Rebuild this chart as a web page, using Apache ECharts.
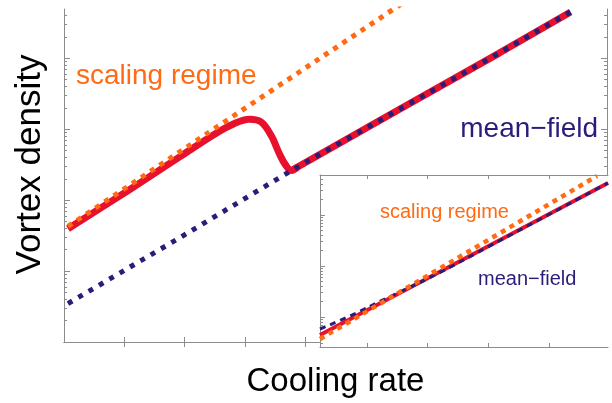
<!DOCTYPE html>
<html>
<head>
<meta charset="utf-8">
<script src="https://cdn.jsdelivr.net/npm/echarts@6/dist/echarts.min.js"></script>
<style>
  html, body { margin: 0; padding: 0; background: #fff; }
  #chart { width: 612px; height: 403px; }
</style>
</head>
<body>
<div id="chart"></div>
<script>
var chart = echarts.init(document.getElementById('chart'));

// x = log10(cooling rate), y = log10(vortex density), arbitrary units (no tick labels in the figure)
// main panel
var mainScalingX = [0.066, 5.6];
var mainScalingY = [1.63, 4.77];
var mainFieldX = [0.066, 1.868, 3.769, 5.554, 7.207, 8.397];
var mainFieldY = [0.542, 1.444, 2.417, 3.278, 4.069, 4.653];
// numerical curve: crossover part, then it sits on the mean-field line
var mainNumX = [0.066, 1.091, 1.917, 2.496, 2.826, 3.074, 3.273, 3.438, 3.570, 3.669, 3.769, 3.87];
var mainNumY = [1.597, 2.150, 2.610, 2.930, 3.080, 3.139, 3.097, 2.903, 2.653, 2.500, 2.417, 2.466];
var mainNumJoinX = 3.769;
// inset
var insetScalingX = [0.225, 4.791];
var insetScalingY = [0.569, 3.765];
var insetFieldX = [0.225, 0.719, 1.329, 1.989, 3.192, 4.972];
var insetFieldY = [0.765, 1.020, 1.373, 1.745, 2.500, 3.627];
var insetNumX = [0.225, 4.972];
var insetNumY = [0.647, 3.627];

var mainDecades = [0, 1, 2, 3, 4];
var insetDecades = [1, 2, 3];

function pairs(xs, ys) {
    return xs.map(function (x, i) { return [x, ys[i]]; });
}
function minorTicks(lo, hi) {
    var out = [];
    for (var d = Math.floor(lo) - 1; d <= hi; d++) {
        for (var k = 2; k <= 9; k++) {
            var v = d + Math.log10(k);
            if (v > lo && v < hi) out.push(v);
        }
    }
    return out;
}

var frameGray = '#8c8c8c';
var orange = '#ff6a13';
var red = '#e8112d';
var navy = '#2a1d7a';
var font = 'Liberation Sans';

function frameAxis(extra, ticks, len, showLine) {
    return Object.assign({
        type: 'value',
        axisLine: { show: showLine, lineStyle: { color: frameGray, width: 1 } },
        axisTick: { show: true, inside: true, length: len, customValues: ticks, lineStyle: { color: frameGray, width: 1 } },
        axisLabel: { show: false },
        splitLine: { show: false }
    }, extra);
}

var mainYMin = 0, mainYMax = 4.694;
var insetYMin = 0.412, insetYMax = 3.784;

var mainFieldPts = pairs(mainFieldX, mainFieldY);

var option = {
    animation: false,
    backgroundColor: '#fff',
    grid: [
        { left: 64, top: 9, right: 5, bottom: 56 },
        { left: 320, top: 175, right: 4, bottom: 56, show: true, backgroundColor: '#fff', borderWidth: 0, z: 5 }
    ],
    xAxis: [
        frameAxis({ gridIndex: 0, position: 'bottom', min: 0, max: 9,
            name: 'Cooling rate', nameLocation: 'middle', nameGap: 23,
            nameTextStyle: { fontFamily: font, fontSize: 33, color: '#000' } },
            [1, 2, 3, 4, 5, 6, 7, 8], 5, true),
        frameAxis({ gridIndex: 0, position: 'top', min: 0, max: 9 }, [1, 2, 3, 4, 5, 6, 7, 8], 5, true),
        frameAxis({ gridIndex: 1, position: 'bottom', min: 0.225, max: 4.972, z: 6 }, [1, 2, 3, 4], 4, true),
        frameAxis({ gridIndex: 1, position: 'top', min: 0.225, max: 4.972, z: 6 }, [1, 2, 3, 4], 4, true)
    ],
    yAxis: [
        frameAxis({ gridIndex: 0, position: 'left', min: mainYMin, max: mainYMax,
            name: 'Vortex density', nameLocation: 'middle', nameGap: 16,
            nameTextStyle: { fontFamily: font, fontSize: 35, color: '#000', padding: [0, 0, 0, 22] } },
            mainDecades, 6, true),
        frameAxis({ gridIndex: 0, position: 'left', min: mainYMin, max: mainYMax }, minorTicks(mainYMin, mainYMax), 3, false),
        frameAxis({ gridIndex: 0, position: 'right', min: mainYMin, max: mainYMax }, mainDecades, 6, true),
        frameAxis({ gridIndex: 0, position: 'right', min: mainYMin, max: mainYMax }, minorTicks(mainYMin, mainYMax), 3, false),
        frameAxis({ gridIndex: 1, position: 'left', min: insetYMin, max: insetYMax, z: 6 }, insetDecades, 5, true),
        frameAxis({ gridIndex: 1, position: 'left', min: insetYMin, max: insetYMax, z: 6 }, minorTicks(insetYMin, insetYMax), 3, false)
    ],
    series: [
        { type: 'line', xAxisIndex: 0, yAxisIndex: 0, data: pairs(mainNumX, mainNumY), smooth: 0.35,
          showSymbol: false, z: 2, lineStyle: { color: red, width: 7 } },
        { type: 'line', xAxisIndex: 0, yAxisIndex: 0,
          data: mainFieldPts.filter(function (p) { return p[0] >= mainNumJoinX; }),
          showSymbol: false, z: 2, lineStyle: { color: red, width: 7 } },
        { type: 'line', xAxisIndex: 0, yAxisIndex: 0, data: mainFieldPts,
          showSymbol: false, z: 3, lineStyle: { color: navy, width: 5, type: [5, 7] } },
        { type: 'line', xAxisIndex: 0, yAxisIndex: 0, data: pairs(mainScalingX, mainScalingY),
          showSymbol: false, z: 4, lineStyle: { color: orange, width: 5, type: [5, 6] } },

        { type: 'line', xAxisIndex: 2, yAxisIndex: 4, data: pairs(insetNumX, insetNumY),
          showSymbol: false, z: 7, lineStyle: { color: red, width: 4 } },
        { type: 'line', xAxisIndex: 2, yAxisIndex: 4, data: pairs(insetFieldX, insetFieldY), smooth: true,
          showSymbol: false, z: 8, lineStyle: { color: navy, width: 3, type: [6, 5] } },
        { type: 'line', xAxisIndex: 2, yAxisIndex: 4, data: pairs(insetScalingX, insetScalingY),
          showSymbol: false, z: 9, lineStyle: { color: orange, width: 4.5, type: [5, 5] } }
    ],
    graphic: [
        { type: 'text', z: 20, style: { text: 'scaling regime', x: 76, y: 76, fill: orange,
            font: '28px "Liberation Sans"', textVerticalAlign: 'middle' } },
        { type: 'text', z: 20, style: { text: 'mean\u2212field', x: 598, y: 129, fill: navy,
            font: '28px "Liberation Sans"', textAlign: 'right', textVerticalAlign: 'middle' } },
        { type: 'text', z: 20, style: { text: 'scaling regime', x: 380, y: 212, fill: orange,
            font: '20px "Liberation Sans"', textVerticalAlign: 'middle' } },
        { type: 'text', z: 20, style: { text: 'mean\u2212field', x: 478, y: 279, fill: navy,
            font: '20px "Liberation Sans"', textVerticalAlign: 'middle' } }
    ]
};
chart.setOption(option);
</script>
</body>
</html>
